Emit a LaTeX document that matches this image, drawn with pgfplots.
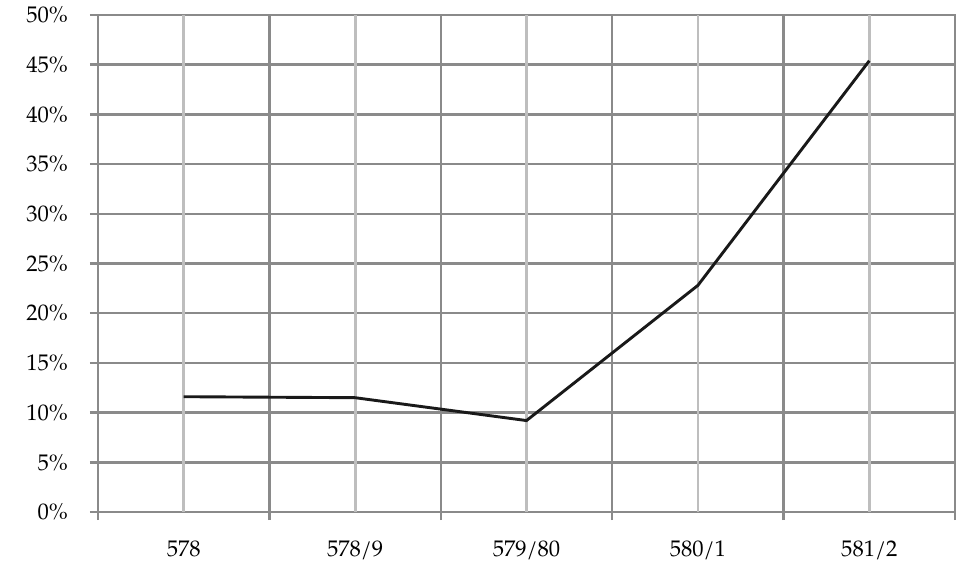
\documentclass[border=0pt]{standalone}
\usepackage{fontspec}
\setmainfont{TeX Gyre Pagella}
\usepackage{pgfplots}
\pgfplotsset{compat=1.18}
\definecolor{gridd}{RGB}{138,138,138}
\definecolor{gridl}{RGB}{190,190,190}
\definecolor{linec}{RGB}{25,25,25}
\begin{document}
\begin{tikzpicture}
\path[use as bounding box] (-49pt,-34pt) rectangle (437pt,256pt);
\begin{axis}[
  at={(0,0)}, anchor=south west,
  scale only axis, width=428.5pt, height=248.5pt,
  xmin=-0.5, xmax=4.5, ymin=0, ymax=50,
  xtick={-0.5,0.5,...,4.5}, xticklabels={},
  extra x ticks={0,1,2,3,4},
  extra x tick labels={578,578/9,579/80,580/1,581/2},
  extra x tick style={grid=major, major grid style={gridl, line width=1.4pt}, tick style={draw=none}, xticklabel style={yshift=-7pt}},
  ytick={0,5,...,50},
  yticklabels={0\%,5\%,10\%,15\%,20\%,25\%,30\%,35\%,40\%,45\%,50\%},
  yticklabel style={xshift=-7.5pt},
  tick pos=left, tick align=outside, major tick length=4pt,
  tick style={gridd, line width=1.25pt},
  grid=major, major grid style={gridd, line width=1.25pt},
  axis line style={gridd, line width=1.25pt},
  every tick label/.append style={font=\fontsize{11.3}{13}\selectfont, text=black},
]
\addplot[linec, line width=1.45pt, mark=none] coordinates {
  (0,11.6) (1,11.5) (2,9.2) (3,22.8) (4,45.4)
};
\end{axis}
\end{tikzpicture}
\end{document}
